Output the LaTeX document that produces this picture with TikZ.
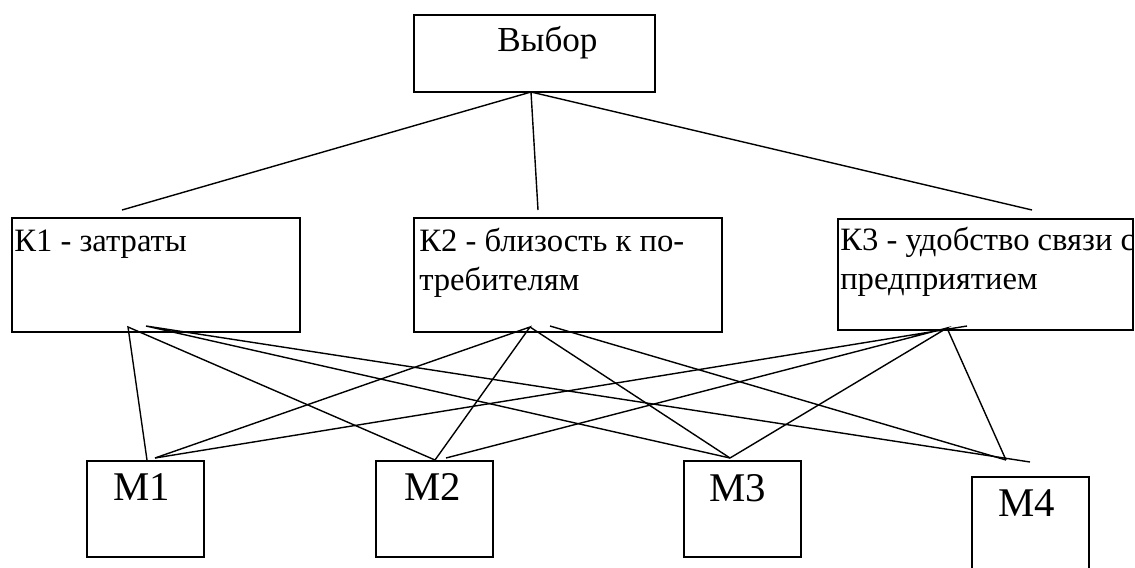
\documentclass[tikz,border=0pt]{standalone}
\usepackage{fontspec}
\setmainfont{Liberation Serif}
\tikzset{
  box/.style={draw, line width=1.3pt, inner sep=0pt},
  ktext/.style={anchor=base west, inner sep=0pt, align=left, font=\fontsize{23.2}{27.6}\selectfont},
  mtext/.style={anchor=base, inner sep=0pt, font=\fontsize{29}{34}\selectfont},
  link/.style={line width=1pt}
}
\begin{document}
\begin{tikzpicture}[x=0.025cm, y=-0.025cm]
  \useasboundingbox (0,0) rectangle (1135,567);
  % boxes
  \node[box, minimum width=6.025cm, minimum height=1.925cm] (v) at (534.5,53.5) {};
  \node[box, minimum width=7.2cm, minimum height=2.85cm] (k1) at (156,275) {};
  \node[box, minimum width=7.7cm, minimum height=2.85cm] (k2) at (568,275) {};
  \node[box, minimum width=7.375cm, minimum height=2.775cm] (k3) at (985.5,274.5) {};
  \node[box, minimum width=2.925cm, minimum height=2.4cm] (m1) at (145.5,509) {};
  \node[box, minimum width=2.925cm, minimum height=2.4cm] (m2) at (434.5,509) {};
  \node[box, minimum width=2.925cm, minimum height=2.4cm] (m3) at (742.5,509) {};
  \node[box, minimum width=2.925cm, minimum height=2.4cm] (m4) at (1030.5,525) {};
  % texts
  \node[mtext, font=\fontsize{25}{30}\selectfont] (vt) at (547.5,51) {Выбор};
  \node[ktext] (k1t) at (14,251) {К1 - затраты};
  \node[ktext] (k2t) at (419,290) {К2 - близость к по-\\требителям};
  \node[ktext] (k3t) at (840,289) {К3 - удобство связи с\\предприятием};
  \node[mtext] (m1t) at (142,500) {M1};
  \node[mtext] (m2t) at (433,500) {M2};
  \node[mtext] (m3t) at (738,501) {M3};
  \node[mtext] (m4t) at (1027,516) {M4};
  % ends of the links
  \coordinate (v-s) at (531,92);
  \coordinate (k1-n) at (122,210);
  \coordinate (k2-n) at (538,210);
  \coordinate (k3-n) at (1032,210);
  \coordinate (k1-a) at (128,327);
  \coordinate (k1-b) at (146,326);
  \coordinate (k2-a) at (530,327);
  \coordinate (k2-b) at (550,326);
  \coordinate (k3-a) at (947,328);
  \coordinate (k3-b) at (967,326);
  \coordinate (m1-a) at (147,460);
  \coordinate (m1-b) at (155,458);
  \coordinate (m2-a) at (435,460);
  \coordinate (m2-b) at (446,458);
  \coordinate (m3-a) at (730,458);
  \coordinate (m4-a) at (1006,460);
  \coordinate (m4-b) at (1030,462);
  \draw[link] (k1-n) -- (v-s) -- (k2-n) (v-s) -- (k3-n);
  \draw[link] (m1-a) -- (k1-a) -- (m2-a) (k1-b) -- (m3-a) (k1-b) -- (m4-b);
  \draw[link] (m1-b) -- (k2-a) -- (m2-a) (k2-a) -- (m3-a) (k2-b) -- (m4-a);
  \draw[link] (m1-b) -- (k3-b) (m2-b) -- (k3-a) -- (m3-a) (k3-a) -- (m4-a);
\end{tikzpicture}
\end{document}
